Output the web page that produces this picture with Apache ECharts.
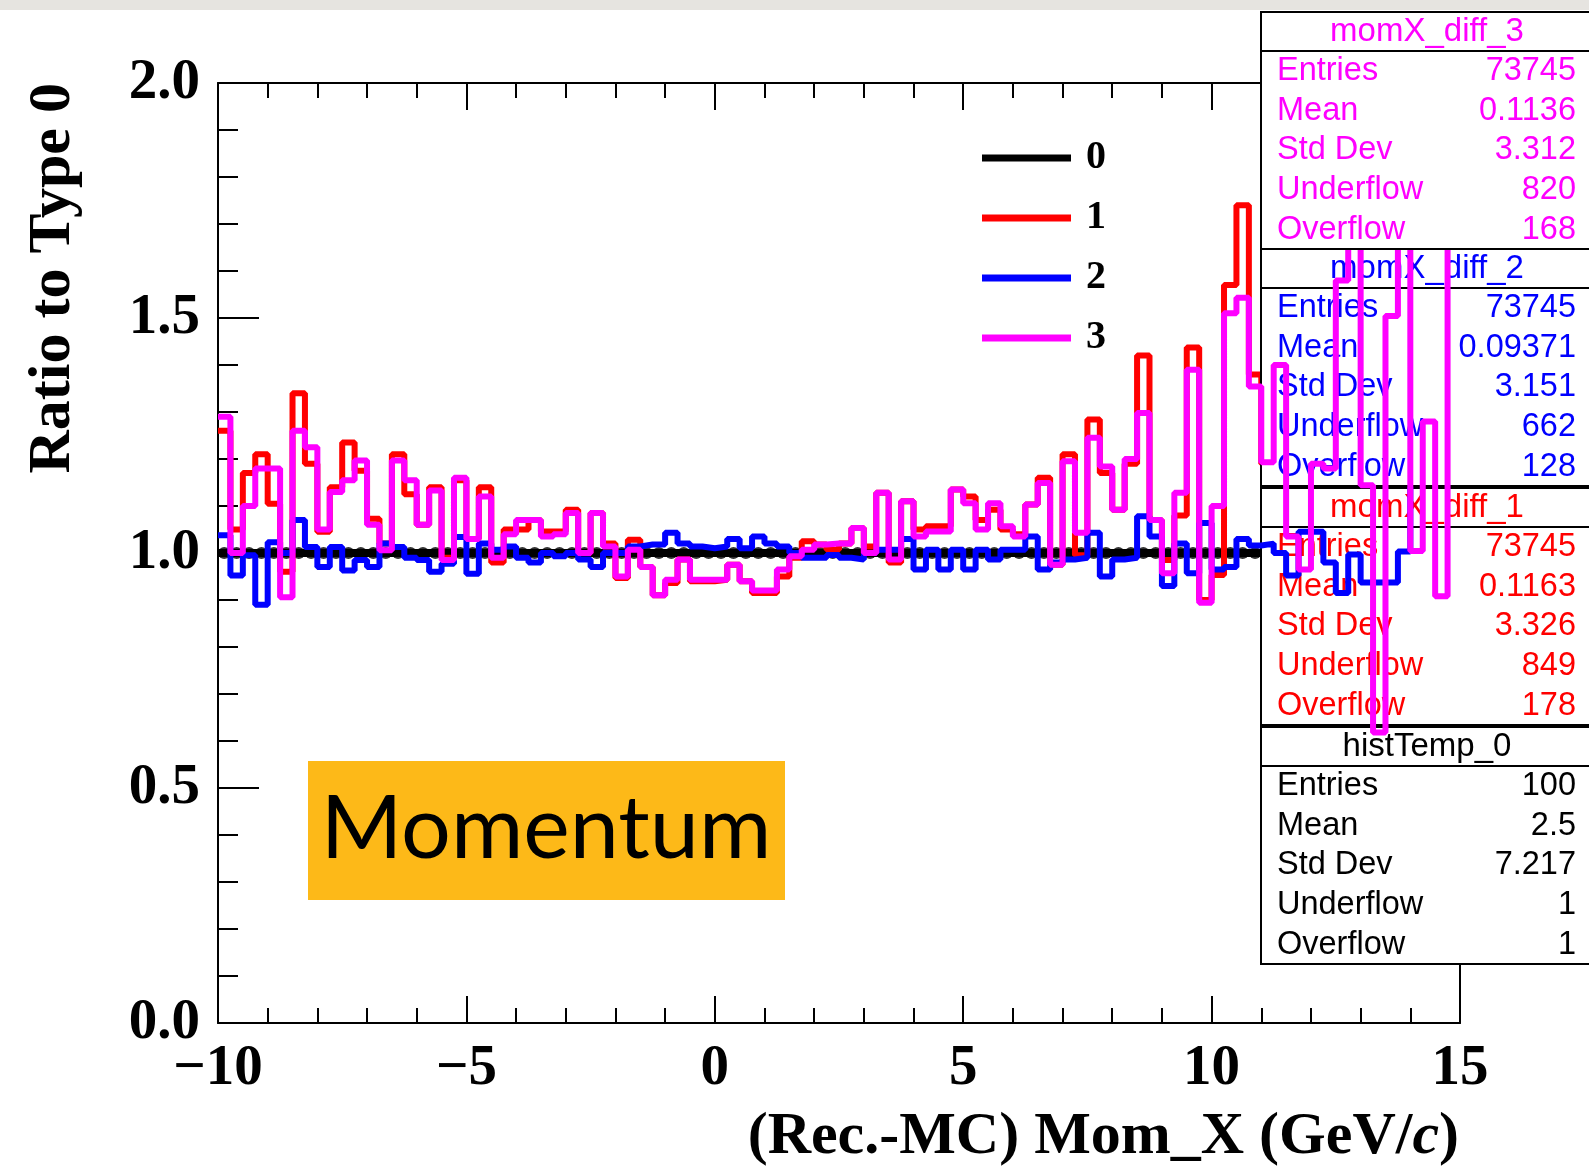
<!DOCTYPE html>
<html>
<head>
<meta charset="utf-8">
<title>Ratio to Type 0</title>
<script src="https://cdn.jsdelivr.net/npm/echarts@6/dist/echarts.min.js"></script>
<style>
  html,body{margin:0;padding:0;background:#fff;}
  #main{width:1589px;height:1169px;}
</style>
</head>
<body>
<div id="main"></div>
<script>
// histogram binning: 100 bins from -10 to 15
var xMin = -10;
var binWidth = 0.25;

// ratio of each type to type 0, one value per bin
var type0 = [
  1,1,1,1,1,1,1,1,1,1, 1,1,1,1,1,1,1,1,1,1,
  1,1,1,1,1,1,1,1,1,1, 1,1,1,1,1,1,1,1,1,1,
  1,1,1,1,1,1,1,1,1,1, 1,1,1,1,1,1,1,1,1,1,
  1,1,1,1,1,1,1,1,1,1, 1,1,1,1,1,1,1,1,1,1,
  1,1,1,1,1,1,1,1,1,1, 1,1,1,1,1,1,1,1,1,1
];
var type1 = [
  1.26,1.05,1.17,1.21,1.105,0.96,1.34,1.19,1.045,1.14,
  1.235,1.175,1.073,1.02,1.21,1.125,1.06,1.14,0.99,1.155,
  1.03,1.14,0.98,1.05,1.05,1.07,1.046,1.046,1.092,1.0,
  1.085,1.02,0.947,1.028,0.97,0.91,0.936,0.986,0.94,0.94,
  0.943,0.975,0.94,0.915,0.915,0.95,0.99,1.025,1.018,1.007,
  1.02,1.053,1.014,1.128,0.98,1.11,1.05,1.057,1.057,1.135,
  1.12,1.07,1.092,1.05,1.04,1.103,1.16,0.975,1.21,0.995,
  1.284,1.17,1.092,1.19,1.42,1.07,0.985,1.08,1.437,0.9,
  0.953,1.57,1.74,1.38,1.19,1.45,1.1,1.0,1.25,1.2,
  1.6,1.75,1.2,0.72,1.5,1.7,1.05,1.3,0.95,1.8
];
var type2 = [
  1.038,0.952,0.995,0.89,1.023,1.0,1.07,1.013,0.97,1.013,
  0.963,0.985,0.97,1.02,1.013,0.99,0.985,0.96,0.977,1.034,
  0.956,1.02,1.007,1.014,0.99,0.98,1.0,0.993,1.0,0.986,
  0.97,1.0,1.0,1.014,1.018,1.018,1.043,1.02,1.014,1.01,
  1.014,1.03,1.01,1.035,1.02,1.014,1.0,0.99,0.99,0.996,
  0.99,0.986,1.0,1.007,1.007,1.03,0.965,1.007,0.965,1.007,
  0.965,1.007,0.986,1.007,1.007,1.035,0.965,0.98,0.986,0.99,
  1.043,0.95,0.986,0.99,1.078,1.035,0.93,1.02,0.957,1.064,
  0.965,0.97,1.03,1.016,1.02,1.0,0.952,1.045,1.045,0.98,
  0.915,0.997,0.937,0.937,0.937,1.003,1.2,1.2,1.2,1.2
];
var type3 = [
  1.29,1.0,1.10,1.18,1.18,0.906,1.26,1.225,1.05,1.13,
  1.155,1.197,1.06,1.006,1.197,1.155,1.06,1.133,0.985,1.16,
  1.03,1.12,0.99,1.04,1.07,1.07,1.035,1.04,1.085,1.0,
  1.085,1.014,0.95,1.007,0.97,0.91,0.943,0.986,0.943,0.943,
  0.943,0.975,0.94,0.92,0.92,0.965,0.993,1.007,1.018,1.02,
  1.02,1.053,1.0,1.128,0.986,1.11,1.035,1.046,1.046,1.135,
  1.106,1.05,1.106,1.057,1.035,1.103,1.149,0.975,1.195,1.043,
  1.245,1.184,1.092,1.2,1.298,1.07,0.957,1.128,1.39,0.894,
  1.10,1.51,1.543,1.354,1.193,1.40,1.035,0.965,1.19,1.18,
  1.58,1.9,1.144,0.618,1.504,1.9,1.004,1.28,0.908,1.9
];

var typeNames = ['0', '1', '2', '3'];
var typeColors = ['#000000', '#ff0000', '#0000ff', '#ff00ff'];

// stats boxes (ROOT style)
var statLabels = ['Entries', 'Mean', 'Std Dev', 'Underflow', 'Overflow'];
var statTitles = ['histTemp_0', 'momX_diff_1', 'momX_diff_2', 'momX_diff_3'];
var statValues0 = ['100', '2.5', '7.217', '1', '1'];
var statValues1 = ['73745', '0.1163', '3.326', '849', '178'];
var statValues2 = ['73745', '0.09371', '3.151', '662', '128'];
var statValues3 = ['73745', '0.1136', '3.312', '820', '168'];

var serifBold = "'Liberation Serif','DejaVu Serif',serif";
var sans = "'Liberation Sans',Arial,sans-serif";

// step data: one point at each bin's low edge, plus the last high edge
function histData(vals){
  var d = [];
  for (var i = 0; i < vals.length; i++) {
    d.push([xMin + i * binWidth, vals[i]]);
  }
  d.push([xMin + vals.length * binWidth, vals[vals.length - 1]]);
  return d;
}
function centerData(vals){
  var d = [];
  for (var i = 0; i < vals.length; i++) {
    d.push([xMin + (i + 0.5) * binWidth, vals[i]]);
  }
  return d;
}

function histSeries(name, vals, color, z, width){
  return {
    name: name,
    type: 'line',
    data: histData(vals),
    step: 'end',
    showSymbol: false,
    symbol: 'none',
    color: color,
    lineStyle: {color: color, width: width},
    z: z,
    silent: true,
    animation: false
  };
}

var graphics = [];
// faint strip at the very top of the picture
graphics.push({type: 'rect', shape: {x: 0, y: 0, width: 1589, height: 10}, style: {fill: '#e6e4e0'}, z: 1});

// y axis title
graphics.push({
  type: 'text', x: 53, y: 83, rotation: Math.PI / 2, z: 10,
  style: {text: 'Ratio to Type 0', font: 'bold 60px ' + serifBold, fill: '#000',
    align: 'right', verticalAlign: 'middle', textAlign: 'right', textVerticalAlign: 'middle'}
});
// x axis title
graphics.push({
  type: 'text', x: 1459, y: 1137, z: 10,
  style: {
    text: '{b|(Rec.-MC) Mom_X (GeV/}{i|c}{b|)}',
    align: 'right', verticalAlign: 'middle', textAlign: 'right', textVerticalAlign: 'middle',
    rich: {
      b: {font: 'bold 60px ' + serifBold, fill: '#000'},
      i: {font: 'italic bold 60px ' + serifBold, fill: '#000'}
    }
  }
});
// Momentum label
graphics.push({type: 'rect', shape: {x: 308, y: 761, width: 477, height: 139}, style: {fill: '#fdb918'}, z: 10});
graphics.push({
  type: 'text', x: 546, y: 830, z: 11,
  style: {text: 'Momentum', font: '88px Lato', fill: '#000',
    align: 'center', verticalAlign: 'middle', textAlign: 'center', textVerticalAlign: 'middle'}
});

// stat boxes; z decides which histograms are drawn over them
function addStatBox(title, values, color, top, z){
  var left = 1261, w = 345, h = 237;
  graphics.push({type: 'rect', shape: {x: left, y: top, width: w, height: h},
    style: {fill: '#fff', stroke: '#000', lineWidth: 2}, z: z});
  graphics.push({type: 'line', shape: {x1: left, y1: top + 39, x2: left + w, y2: top + 39},
    style: {stroke: '#000', lineWidth: 2}, z: z});
  graphics.push({type: 'text', x: 1427, y: top + 20, z: z,
    style: {text: title, font: '33px ' + sans, fill: color,
      align: 'center', verticalAlign: 'middle', textAlign: 'center', textVerticalAlign: 'middle'}});
  for (var i = 0; i < statLabels.length; i++) {
    var yy = top + 59 + i * 39.7;
    graphics.push({type: 'text', x: 1277, y: yy, z: z,
      style: {text: statLabels[i], font: '32.5px ' + sans, fill: color,
        align: 'left', verticalAlign: 'middle', textAlign: 'left', textVerticalAlign: 'middle'}});
    graphics.push({type: 'text', x: 1576, y: yy, z: z,
      style: {text: values[i], font: '32.5px ' + sans, fill: color,
        align: 'right', verticalAlign: 'middle', textAlign: 'right', textVerticalAlign: 'middle'}});
  }
}
addStatBox(statTitles[0], statValues0, '#000000', 727, 4);
addStatBox(statTitles[1], statValues1, '#ff0000', 488, 4);
addStatBox(statTitles[2], statValues2, '#0000ff', 249, 6);
addStatBox(statTitles[3], statValues3, '#ff00ff', 12, 8);

var tickStyle = {color: '#000', width: 2};

var option = {
  backgroundColor: '#ffffff',
  animation: false,
  grid: {left: 218, top: 83, width: 1242, height: 940, containLabel: false},
  legend: {
    data: typeNames,
    orient: 'vertical',
    left: 977,
    top: 133,
    itemWidth: 89,
    itemHeight: 7,
    itemGap: 20,
    icon: 'rect',
    selectedMode: false,
    textStyle: {fontFamily: serifBold, fontWeight: 'bold', fontSize: 40, lineHeight: 40, color: '#000', padding: [0, 0, 0, 10]}
  },
  xAxis: [{
    type: 'value', min: -10, max: 15, interval: 5, position: 'bottom',
    axisLine: {show: true, onZero: false, lineStyle: tickStyle},
    axisTick: {show: true, inside: true, length: 27, lineStyle: tickStyle},
    minorTick: {show: true, splitNumber: 5, length: 15, lineStyle: tickStyle},
    splitLine: {show: false},
    axisLabel: {
      margin: 18, fontSize: 57, fontFamily: serifBold, fontWeight: 'bold', color: '#000',
      formatter: function(v){ return v < 0 ? '\u2212' + Math.abs(v) : String(v); }
    }
  }, {
    type: 'value', min: -10, max: 15, interval: 5, position: 'top',
    axisLine: {show: true, onZero: false, lineStyle: tickStyle},
    axisTick: {show: true, inside: true, length: 27, lineStyle: tickStyle},
    minorTick: {show: true, splitNumber: 5, length: 15, lineStyle: tickStyle},
    splitLine: {show: false},
    axisLabel: {show: false}
  }],
  yAxis: [{
    type: 'value', min: 0, max: 2, interval: 0.5, position: 'left',
    axisLine: {show: true, onZero: false, lineStyle: tickStyle},
    axisTick: {show: true, inside: true, length: 41, lineStyle: tickStyle},
    minorTick: {show: true, splitNumber: 5, length: 20, lineStyle: tickStyle},
    splitLine: {show: false},
    axisLabel: {
      margin: 18, fontSize: 57, fontFamily: serifBold, fontWeight: 'bold', color: '#000',
      formatter: function(v){ return v.toFixed(1); }
    }
  }, {
    type: 'value', min: 0, max: 2, position: 'right',
    axisLine: {show: true, onZero: false, lineStyle: tickStyle},
    axisTick: {show: false},
    splitLine: {show: false},
    axisLabel: {show: false}
  }],
  series: [
    histSeries(typeNames[0], type0, typeColors[0], 2, 8),
    {
      type: 'scatter', data: centerData(type0), symbol: 'circle', symbolSize: 12,
      itemStyle: {color: '#000'}, z: 2, silent: true, animation: false
    },
    histSeries(typeNames[1], type1, typeColors[1], 3, 6),
    histSeries(typeNames[2], type2, typeColors[2], 5, 6),
    histSeries(typeNames[3], type3, typeColors[3], 7, 6)
  ],
  graphic: {elements: graphics}
};

var myChart = echarts.init(document.getElementById('main'), null, {renderer: 'canvas'});
myChart.setOption(option);
</script>
</body>
</html>
